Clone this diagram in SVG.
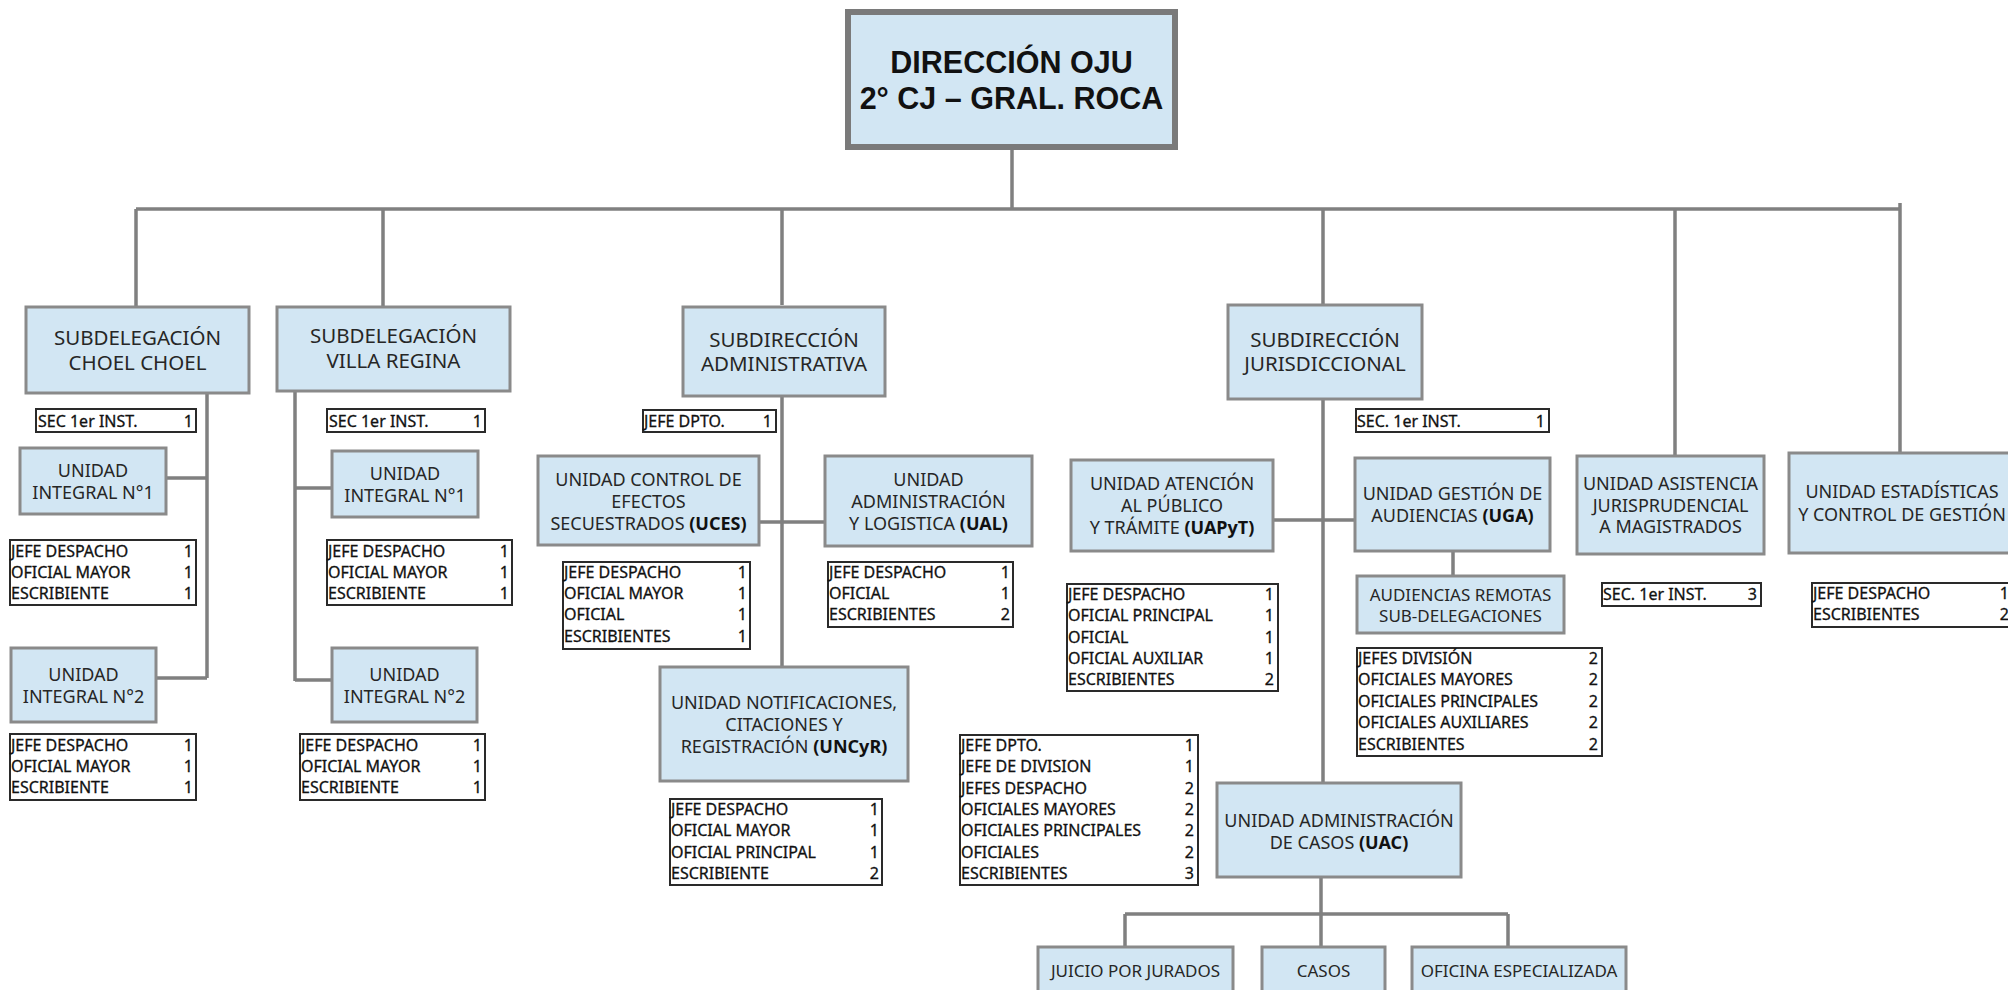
<svg xmlns="http://www.w3.org/2000/svg" width="2008" height="990" viewBox="0 0 2008 990">
<style>
.bg{fill:#ffffff}
.n{fill:#d2e6f3;stroke:#8a8a8a;stroke-width:3}
.main{fill:#d2e6f3;stroke:#7a7a7a;stroke-width:6}
.t{fill:#ffffff;stroke:#2a2a2a;stroke-width:2}
.c{fill:none;stroke:#808080;stroke-width:3.5}
text{font-family:"Noto Sans","Open Sans","DejaVu Sans",sans-serif;fill:#262626}
.h{font-size:20.5px;text-anchor:middle}
.m{font-size:18px;text-anchor:middle}
.s{font-size:17px;text-anchor:middle}
.ttl{font-family:"Liberation Sans",Arial,sans-serif;font-size:30.5px;font-weight:bold;text-anchor:middle;fill:#111}
.r{font-size:16px;fill:#111;stroke:#111;stroke-width:0.3}
.v{font-size:16px;fill:#111;stroke:#111;stroke-width:0.3;text-anchor:end}
.b{font-weight:bold;fill:#111}
</style>
<rect class="bg" x="0" y="0" width="2008" height="990"/>

<g id="connectors">
  <path class="c" d="M1012 147V209M136 209H1900M1900 203V456M136 209V307M383 209V307M782 209V305M1323 209V305M1675 209V456"/>
  <path class="c" d="M207 393V678M166 478H207M156 678H207"/>
  <path class="c" d="M295 391V681M295 488H332M295 680H332"/>
  <path class="c" d="M782 396V667M759 522H825"/>
  <path class="c" d="M1323 399V782M1273 520H1355M1453 551V576"/>
  <path class="c" d="M1321 877V914M1125 914H1508M1125 914V947M1321 914V947M1508 914V947"/>
</g>

<g id="direccion">
  <rect class="main" x="848" y="12" width="327" height="135"/>
  <text class="ttl" x="1011.5" y="73">DIRECCIÓN OJU</text>
  <text class="ttl" x="1011.5" y="109">2° CJ – GRAL. ROCA</text>
</g>

<g id="subdelegacion-choel">
  <rect class="n" x="26" y="307" width="223" height="86"/>
  <text class="h" x="137.5" y="345">SUBDELEGACIÓN</text>
  <text class="h" x="137.5" y="370">CHOEL CHOEL</text>
</g>
<g id="choel-sec">
  <rect class="t" x="36" y="409" width="160" height="23"/>
  <text class="r" x="38" y="427">SEC 1er INST.</text><text class="v" x="193" y="427">1</text>
</g>
<g id="choel-ui1">
  <rect class="n" x="20" y="448" width="146" height="66"/>
  <text class="m" x="93" y="477">UNIDAD</text>
  <text class="m" x="93" y="499">INTEGRAL N°1</text>
</g>
<g id="choel-ui1-tabla">
  <rect class="t" x="10" y="540" width="186" height="65"/>
  <text class="r" x="11" y="557">JEFE DESPACHO</text><text class="v" x="193" y="557">1</text>
  <text class="r" x="11" y="578">OFICIAL MAYOR</text><text class="v" x="193" y="578">1</text>
  <text class="r" x="11" y="599">ESCRIBIENTE</text><text class="v" x="193" y="599">1</text>
</g>
<g id="choel-ui2">
  <rect class="n" x="11" y="648" width="145" height="74"/>
  <text class="m" x="83.5" y="681">UNIDAD</text>
  <text class="m" x="83.5" y="703">INTEGRAL N°2</text>
</g>
<g id="choel-ui2-tabla">
  <rect class="t" x="10" y="734" width="186" height="66"/>
  <text class="r" x="11" y="751">JEFE DESPACHO</text><text class="v" x="193" y="751">1</text>
  <text class="r" x="11" y="772">OFICIAL MAYOR</text><text class="v" x="193" y="772">1</text>
  <text class="r" x="11" y="793">ESCRIBIENTE</text><text class="v" x="193" y="793">1</text>
</g>

<g id="subdelegacion-villa">
  <rect class="n" x="277" y="307" width="233" height="84"/>
  <text class="h" x="393.5" y="343">SUBDELEGACIÓN</text>
  <text class="h" x="393.5" y="368">VILLA REGINA</text>
</g>
<g id="villa-sec">
  <rect class="t" x="327" y="409" width="158" height="23"/>
  <text class="r" x="329" y="427">SEC 1er INST.</text><text class="v" x="482" y="427">1</text>
</g>
<g id="villa-ui1">
  <rect class="n" x="332" y="451" width="146" height="66"/>
  <text class="m" x="405" y="480">UNIDAD</text>
  <text class="m" x="405" y="502">INTEGRAL N°1</text>
</g>
<g id="villa-ui1-tabla">
  <rect class="t" x="327" y="540" width="185" height="65"/>
  <text class="r" x="328" y="557">JEFE DESPACHO</text><text class="v" x="509" y="557">1</text>
  <text class="r" x="328" y="578">OFICIAL MAYOR</text><text class="v" x="509" y="578">1</text>
  <text class="r" x="328" y="599">ESCRIBIENTE</text><text class="v" x="509" y="599">1</text>
</g>
<g id="villa-ui2">
  <rect class="n" x="332" y="648" width="145" height="74"/>
  <text class="m" x="404.5" y="681">UNIDAD</text>
  <text class="m" x="404.5" y="703">INTEGRAL N°2</text>
</g>
<g id="villa-ui2-tabla">
  <rect class="t" x="300" y="734" width="185" height="66"/>
  <text class="r" x="301" y="751">JEFE DESPACHO</text><text class="v" x="482" y="751">1</text>
  <text class="r" x="301" y="772">OFICIAL MAYOR</text><text class="v" x="482" y="772">1</text>
  <text class="r" x="301" y="793">ESCRIBIENTE</text><text class="v" x="482" y="793">1</text>
</g>

<g id="subdireccion-administrativa">
  <rect class="n" x="683" y="307" width="202" height="89"/>
  <text class="h" x="784" y="347">SUBDIRECCIÓN</text>
  <text class="h" x="784" y="371">ADMINISTRATIVA</text>
</g>
<g id="admin-jefe">
  <rect class="t" x="643" y="410" width="133" height="22"/>
  <text class="r" x="644" y="427">JEFE DPTO.</text><text class="v" x="772" y="427">1</text>
</g>
<g id="uces">
  <rect class="n" x="538" y="456" width="221" height="89"/>
  <text class="m" x="648.5" y="486">UNIDAD CONTROL DE</text>
  <text class="m" x="648.5" y="508">EFECTOS</text>
  <text class="m" x="648.5" y="530">SECUESTRADOS <tspan class="b">(UCES)</tspan></text>
</g>
<g id="uces-tabla">
  <rect class="t" x="563" y="562" width="187" height="87"/>
  <text class="r" x="564" y="578">JEFE DESPACHO</text><text class="v" x="747" y="578">1</text>
  <text class="r" x="564" y="599">OFICIAL MAYOR</text><text class="v" x="747" y="599">1</text>
  <text class="r" x="564" y="620">OFICIAL</text><text class="v" x="747" y="620">1</text>
  <text class="r" x="564" y="642">ESCRIBIENTES</text><text class="v" x="747" y="642">1</text>
</g>
<g id="ual">
  <rect class="n" x="825" y="456" width="207" height="90"/>
  <text class="m" x="928.5" y="486">UNIDAD</text>
  <text class="m" x="928.5" y="508">ADMINISTRACIÓN</text>
  <text class="m" x="928.5" y="530">Y LOGISTICA <tspan class="b">(UAL)</tspan></text>
</g>
<g id="ual-tabla">
  <rect class="t" x="828" y="562" width="185" height="65"/>
  <text class="r" x="829" y="578">JEFE DESPACHO</text><text class="v" x="1010" y="578">1</text>
  <text class="r" x="829" y="599">OFICIAL</text><text class="v" x="1010" y="599">1</text>
  <text class="r" x="829" y="620">ESCRIBIENTES</text><text class="v" x="1010" y="620">2</text>
</g>
<g id="uncyr">
  <rect class="n" x="660" y="667" width="248" height="114"/>
  <text class="m" x="784" y="709">UNIDAD NOTIFICACIONES,</text>
  <text class="m" x="784" y="731">CITACIONES Y</text>
  <text class="m" x="784" y="753">REGISTRACIÓN <tspan class="b">(UNCyR)</tspan></text>
</g>
<g id="uncyr-tabla">
  <rect class="t" x="670" y="799" width="212" height="86"/>
  <text class="r" x="671" y="815">JEFE DESPACHO</text><text class="v" x="879" y="815">1</text>
  <text class="r" x="671" y="836">OFICIAL MAYOR</text><text class="v" x="879" y="836">1</text>
  <text class="r" x="671" y="858">OFICIAL PRINCIPAL</text><text class="v" x="879" y="858">1</text>
  <text class="r" x="671" y="879">ESCRIBIENTE</text><text class="v" x="879" y="879">2</text>
</g>

<g id="subdireccion-jurisdiccional">
  <rect class="n" x="1228" y="305" width="194" height="94"/>
  <text class="h" x="1325" y="347">SUBDIRECCIÓN</text>
  <text class="h" x="1325" y="371">JURISDICCIONAL</text>
</g>
<g id="jur-sec">
  <rect class="t" x="1356" y="409" width="193" height="23"/>
  <text class="r" x="1357" y="427">SEC. 1er INST.</text><text class="v" x="1545" y="427">1</text>
</g>
<g id="uapyt">
  <rect class="n" x="1071" y="460" width="202" height="91"/>
  <text class="m" x="1172" y="490">UNIDAD ATENCIÓN</text>
  <text class="m" x="1172" y="512">AL PÚBLICO</text>
  <text class="m" x="1172" y="534">Y TRÁMITE <tspan class="b">(UAPyT)</tspan></text>
</g>
<g id="uapyt-tabla">
  <rect class="t" x="1067" y="584" width="211" height="107"/>
  <text class="r" x="1068" y="600">JEFE DESPACHO</text><text class="v" x="1274" y="600">1</text>
  <text class="r" x="1068" y="621">OFICIAL PRINCIPAL</text><text class="v" x="1274" y="621">1</text>
  <text class="r" x="1068" y="643">OFICIAL</text><text class="v" x="1274" y="643">1</text>
  <text class="r" x="1068" y="664">OFICIAL AUXILIAR</text><text class="v" x="1274" y="664">1</text>
  <text class="r" x="1068" y="685">ESCRIBIENTES</text><text class="v" x="1274" y="685">2</text>
</g>
<g id="uga">
  <rect class="n" x="1355" y="458" width="195" height="93"/>
  <text class="m" x="1452.5" y="500">UNIDAD GESTIÓN DE</text>
  <text class="m" x="1452.5" y="522">AUDIENCIAS <tspan class="b">(UGA)</tspan></text>
</g>
<g id="audiencias-remotas">
  <rect class="n" x="1357" y="576" width="207" height="57"/>
  <text class="s" x="1460.5" y="601">AUDIENCIAS REMOTAS</text>
  <text class="s" x="1460.5" y="622">SUB-DELEGACIONES</text>
</g>
<g id="uga-tabla">
  <rect class="t" x="1357" y="648" width="245" height="108"/>
  <text class="r" x="1358" y="664">JEFES DIVISIÓN</text><text class="v" x="1598" y="664">2</text>
  <text class="r" x="1358" y="685">OFICIALES  MAYORES</text><text class="v" x="1598" y="685">2</text>
  <text class="r" x="1358" y="707">OFICIALES PRINCIPALES</text><text class="v" x="1598" y="707">2</text>
  <text class="r" x="1358" y="728">OFICIALES AUXILIARES</text><text class="v" x="1598" y="728">2</text>
  <text class="r" x="1358" y="750">ESCRIBIENTES</text><text class="v" x="1598" y="750">2</text>
</g>
<g id="uac-tabla">
  <rect class="t" x="960" y="735" width="238" height="150"/>
  <text class="r" x="961" y="751">JEFE DPTO.</text><text class="v" x="1194" y="751">1</text>
  <text class="r" x="961" y="772">JEFE DE DIVISION</text><text class="v" x="1194" y="772">1</text>
  <text class="r" x="961" y="794">JEFES DESPACHO</text><text class="v" x="1194" y="794">2</text>
  <text class="r" x="961" y="815">OFICIALES MAYORES</text><text class="v" x="1194" y="815">2</text>
  <text class="r" x="961" y="836">OFICIALES PRINCIPALES</text><text class="v" x="1194" y="836">2</text>
  <text class="r" x="961" y="858">OFICIALES</text><text class="v" x="1194" y="858">2</text>
  <text class="r" x="961" y="879">ESCRIBIENTES</text><text class="v" x="1194" y="879">3</text>
</g>
<g id="uac">
  <rect class="n" x="1217" y="783" width="244" height="94"/>
  <text class="m" x="1339" y="827">UNIDAD ADMINISTRACIÓN</text>
  <text class="m" x="1339" y="849">DE CASOS <tspan class="b">(UAC)</tspan></text>
</g>
<g id="juicio-jurados">
  <rect class="n" x="1038" y="947" width="195" height="60"/>
  <text class="s" x="1135.5" y="977">JUICIO POR JURADOS</text>
</g>
<g id="casos">
  <rect class="n" x="1262" y="947" width="123" height="60"/>
  <text class="s" x="1323.5" y="977">CASOS</text>
</g>
<g id="oficina-especializada">
  <rect class="n" x="1412" y="947" width="214" height="60"/>
  <text class="s" x="1519" y="977">OFICINA ESPECIALIZADA</text>
</g>

<g id="uaj">
  <rect class="n" x="1577" y="456" width="187" height="98"/>
  <text class="m" x="1670.5" y="490">UNIDAD ASISTENCIA</text>
  <text class="m" x="1670.5" y="512">JURISPRUDENCIAL</text>
  <text class="m" x="1670.5" y="533">A MAGISTRADOS</text>
</g>
<g id="uaj-sec">
  <rect class="t" x="1602" y="583" width="159" height="23"/>
  <text class="r" x="1603" y="600">SEC. 1er INST.</text><text class="v" x="1757" y="600">3</text>
</g>
<g id="ueycg">
  <rect class="n" x="1789" y="453" width="224" height="100"/>
  <text class="m" x="1902" y="498">UNIDAD ESTADÍSTICAS</text>
  <text class="m" x="1902" y="521">Y CONTROL DE GESTIÓN</text>
</g>
<g id="ueycg-tabla">
  <rect class="t" x="1812" y="583" width="202" height="44"/>
  <text class="r" x="1813" y="599">JEFE DESPACHO</text><text class="v" x="2009" y="599">1</text>
  <text class="r" x="1813" y="620">ESCRIBIENTES</text><text class="v" x="2009" y="620">2</text>
</g>
</svg>
